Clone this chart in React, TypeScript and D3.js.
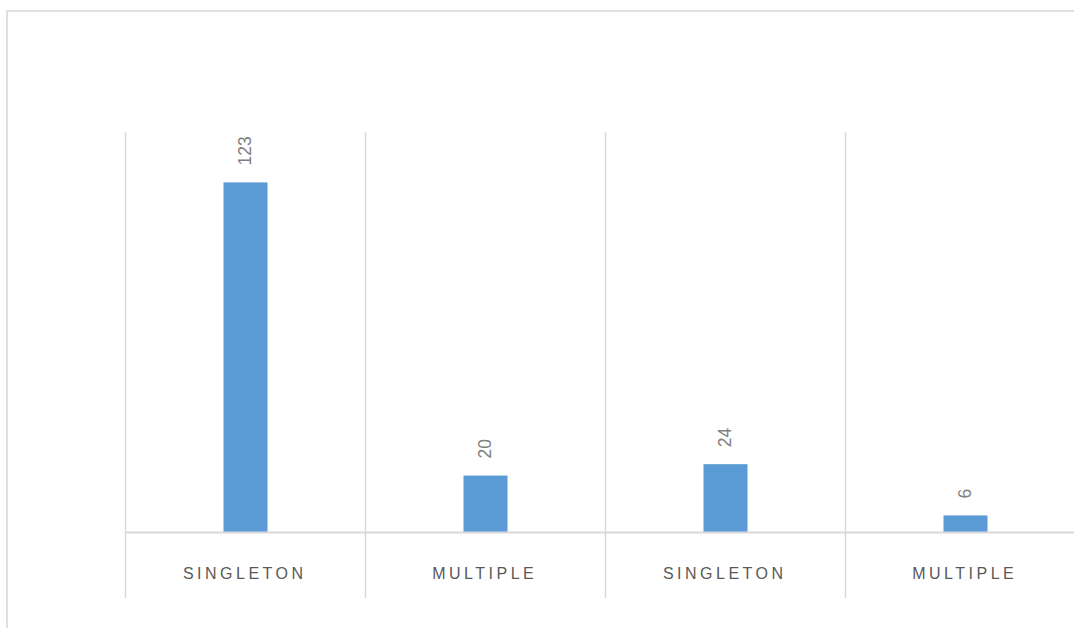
import React from "react";
import * as d3 from "d3";

const categories = ["SINGLETON", "MULTIPLE", "SINGLETON", "MULTIPLE"];
const counts = [123, 20, 24, 6];
const yDomainMax = 140;

const W = 1074;
const H = 628;
const plot = { left: 126, top: 132, bandWidth: 240, baseline: 532.5, tickBottom: 598 };
const gridColor = "#d9d9d9";
const barColor = "#5b9bd5";

export default function App() {
  const keys = categories.map((_, i) => String(i));
  const x = d3
    .scaleBand<string>()
    .domain(keys)
    .range([plot.left, plot.left + plot.bandWidth * keys.length])
    .paddingInner(0)
    .paddingOuter(0);
  const y = d3.scaleLinear().domain([0, yDomainMax]).range([plot.baseline, 134]);
  const barW = 44;
  const letterSpacing = 3.5;

  const boundaries = d3.range(keys.length + 1).map((i) => plot.left + i * x.bandwidth());

  return (
    <svg
      width={W}
      height={H}
      style={{ position: "absolute", left: 0, top: 0, background: "#fff" }}
    >
      {/* outer chart frame */}
      <rect x={7} y={11} width={W + 20} height={H + 20} fill="none" stroke={gridColor} strokeWidth={1.6} />

      {/* category separators */}
      {boundaries.map((bx, i) => (
        <line key={`sep${i}`} x1={bx - 0.5} x2={bx - 0.5} y1={plot.top} y2={plot.tickBottom} stroke={gridColor} strokeWidth={1.5} />
      ))}

      {/* bars */}
      {counts.map((v, i) => {
        const cx = (x(keys[i]) as number) + x.bandwidth() / 2 - 0.5;
        return (
          <rect key={`bar${i}`} x={cx - barW / 2} y={y(v)} width={barW} height={y(0) - y(v)} fill={barColor} />
        );
      })}

      {/* horizontal axis */}
      <line x1={plot.left - 1} x2={W + 20} y1={plot.baseline} y2={plot.baseline} stroke={gridColor} strokeWidth={1.8} />

      {/* value labels */}
      {counts.map((v, i) => {
        const cx = (x(keys[i]) as number) + x.bandwidth() / 2 - 1;
        const ty = y(v) - 17;
        return (
          <text
            key={`lbl${i}`}
            transform={`translate(${cx},${ty}) rotate(-90)`}
            dy="0.36em"
            textAnchor="start"
            fontFamily="'Liberation Sans', Arial, sans-serif"
            fontSize={17.5}
            fill="#7f7f7f"
          >
            {v}
          </text>
        );
      })}

      {/* category labels */}
      {categories.map((c, i) => {
        const cx = (x(keys[i]) as number) + x.bandwidth() / 2 - 3;
        return (
          <text
            key={`cat${i}`}
            x={cx + letterSpacing / 2}
            y={579}
            textAnchor="middle"
            fontFamily="'Liberation Sans', Arial, sans-serif"
            fontSize={16}
            letterSpacing={letterSpacing}
            fill="#595959"
          >
            {c}
          </text>
        );
      })}
    </svg>
  );
}
